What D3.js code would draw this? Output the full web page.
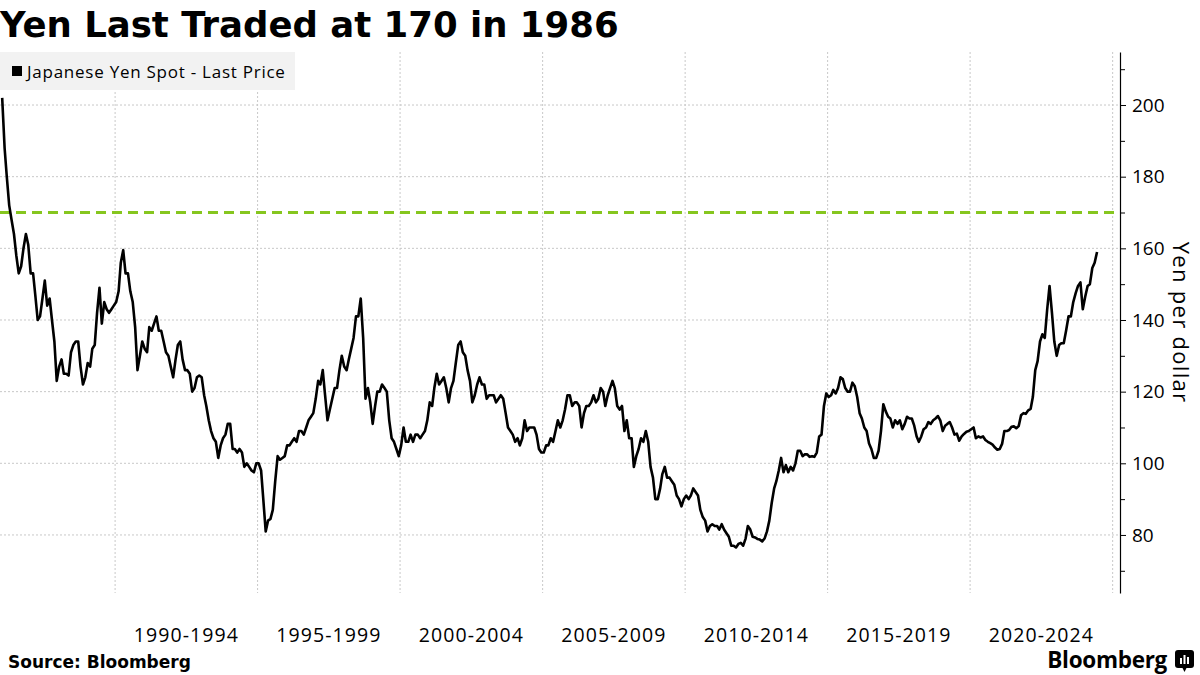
<!DOCTYPE html>
<html>
<head>
<meta charset="utf-8">
<script src="https://cdn.jsdelivr.net/npm/d3@7"></script>
<style>
  body { margin: 0; background: #fff; }
  svg { display: block; }
</style>
</head>
<body>
<div id="chart"></div>
<script>
// USD/JPY spot, monthly readings, Jan 1986 -> Jun 2024
const startYear = 1986;
const yenMonthly = [
  202, 188, 180, 172, 168, 164, 158, 153, 155, 160, 164, 161,   // 1986
  153, 153, 147, 140, 141, 146, 151, 144, 146, 140, 134, 123,   // 1987
  127, 129, 125, 125, 124.5, 131, 133, 134, 134, 127, 122, 124, // 1988
  128, 127, 132, 133, 142, 149, 139, 145, 143, 142, 143, 144,   // 1989
  145, 148, 156, 159.5, 153, 153, 148, 145, 138, 126, 130, 134, // 1990
  132, 131, 138, 137, 139, 141, 137, 137, 134, 131, 130, 127,   // 1991
  124, 129, 133, 134, 129, 126, 126, 125, 120, 121, 124, 124.5, // 1992
  124, 119, 116, 112, 109, 107, 106, 101.5, 105, 107, 108, 111, // 1993
  111, 104, 104, 103, 104, 103, 99, 100, 99, 98, 97.5, 100,     // 1994
  100, 98, 90, 81, 84, 84.5, 87, 95, 102, 101, 101.5, 102,      // 1995
  105, 105, 106, 107, 106, 109, 109, 108, 110, 112, 113, 114,   // 1996
  118, 123, 122, 126, 119, 112, 115, 118, 121, 121, 126, 130,   // 1997
  127, 126, 129, 132, 135, 141, 141, 146, 135, 118, 121, 117,   // 1998
  111, 116, 120, 120, 122, 121, 120, 112, 107, 106, 104, 102,   // 1999
  105, 110, 106, 106, 108, 106, 108, 108, 107, 108, 109, 112,   // 2000
  117, 116, 121, 125, 122, 123, 124, 121, 117, 121, 123, 128,   // 2001
  133, 134, 131, 130, 126, 123, 117, 119, 122, 124, 122, 122,   // 2002
  118, 119, 119, 119, 117, 118, 119, 118, 114, 110, 109, 108,   // 2003
  106, 107, 105, 107, 112, 109, 110, 110, 110, 108, 104, 103,   // 2004
  103, 105, 105, 107, 106, 109, 112, 110, 112, 115, 119, 119,   // 2005
  116, 117, 117, 116, 110, 114, 116, 116, 117, 119, 117, 118,   // 2006
  121, 120, 116, 119, 121, 123, 121, 116, 115, 116, 109, 112,   // 2007
  107, 107, 99, 102, 104, 107, 106, 109, 106, 99, 96, 90,       // 2008
  90, 93, 97, 99, 96, 96, 95, 94, 91, 90, 88, 90,               // 2009
  91, 90, 91, 93, 92, 91, 87, 85, 84, 81, 82.5, 83,             // 2010
  82.5, 82.5, 81.5, 83, 81.5, 80.5, 79.5, 77, 77, 76.5, 77.5, 77.8, // 2011
  77, 79, 82.5, 81.5, 79.5, 79.3, 78.9, 78.7, 78.2, 79, 81, 84, // 2012
  89, 93, 95, 98, 101.5, 97.5, 99.5, 97.5, 99, 98, 100, 103.5,  // 2013
  103.5, 102, 102.5, 102.5, 101.8, 102, 101.8, 103, 107.5, 108, 116, 119.5, // 2014
  118.5, 119, 120.5, 119.5, 121, 124, 123.5, 121, 120, 120, 122.5, 121.5,   // 2015
  118.5, 114, 112.5, 110, 109, 105.5, 104, 101.5, 101.5, 103.5, 109, 116.5, // 2016
  114.5, 113, 112.5, 110, 112, 111, 112, 109.5, 111, 113, 112.5, 112.5,     // 2017
  110.5, 107.5, 106, 107.5, 109.5, 110, 111.5, 111, 112, 112.5, 113.2, 112, // 2018
  109, 110.5, 111, 111.5, 110, 108, 108.3, 106.3, 107.5, 108.2, 108.8, 109, // 2019
  109.5, 110, 107, 107.5, 107.2, 107.5, 106.5, 106, 105.6, 105.2, 104.4, 103.8, // 2020
  104, 105.5, 109, 109, 109.3, 110.2, 110.3, 109.8, 110.4, 113.4, 114, 113.8,   // 2021
  114.8, 115.2, 118.5, 126, 128.5, 134, 136, 135, 143, 149.5, 142, 134,   // 2022
  130, 133, 133.5, 133.5, 137, 141, 141, 145, 147.5, 149.5, 150.5, 143,   // 2023
  146.5, 149.5, 150, 154.5, 156, 159                                      // 2024
];

const gridYears = [1990, 1995, 2000, 2005, 2010, 2015, 2020, 2025];
const periodLabels = ['1990-1994', '1995-1999', '2000-2004', '2005-2009',
                      '2010-2014', '2015-2019', '2020-2024'];
const yTicks = [80, 100, 120, 140, 160, 180, 200];
const yMinorTicks = [70, 90, 110, 130, 150, 170, 190, 210];
const threshold = 170;

const width = 1200, height = 675;
const plot = { left: 0, right: 1120, top: 52, bottom: 593 };

const data = yenMonthly.map((v, i) => ({
  date: new Date(startYear + Math.floor(i / 12), i % 12, 15),
  value: v
}));

const svg = d3.select('#chart').append('svg')
  .attr('width', width)
  .attr('height', height);

const x = d3.scaleTime()
  .domain([new Date(1985, 11, 18), new Date(2025, 3, 5)])
  .range([plot.left, plot.right]);

const y = d3.scaleLinear()
  .domain([63.8, 214.8])
  .range([plot.bottom, plot.top]);

// gridlines
const grid = svg.append('g').attr('class', 'grid');
grid.selectAll('line.h')
  .data(yTicks)
  .join('line')
  .attr('class', 'h')
  .attr('x1', plot.left).attr('x2', plot.right)
  .attr('y1', d => y(d)).attr('y2', d => y(d))
  .attr('stroke', '#c8c8c8')
  .attr('stroke-dasharray', '2,2');

grid.selectAll('line.v')
  .data(gridYears)
  .join('line')
  .attr('class', 'v')
  .attr('x1', d => x(new Date(d, 0, 1))).attr('x2', d => x(new Date(d, 0, 1)))
  .attr('y1', plot.top).attr('y2', plot.bottom)
  .attr('stroke', '#c8c8c8')
  .attr('stroke-dasharray', '2,2');

// 170 reference line
svg.append('line')
  .attr('x1', plot.left).attr('x2', plot.right)
  .attr('y1', y(threshold)).attr('y2', y(threshold))
  .attr('stroke', '#86c61f')
  .attr('stroke-width', 3)
  .attr('stroke-dasharray', '10,6');

// price line
const line = d3.line()
  .x(d => x(d.date))
  .y(d => y(d.value));

svg.append('path')
  .datum(data)
  .attr('d', line)
  .attr('fill', 'none')
  .attr('stroke', '#000')
  .attr('stroke-width', 2.6)
  .attr('stroke-linejoin', 'round');

// right axis, major + minor ticks
const axisG = svg.append('g')
  .attr('transform', `translate(${plot.right},0)`);

axisG.append('g')
  .call(d3.axisRight(y).tickValues(yMinorTicks).tickSize(5).tickFormat('').tickSizeOuter(0))
  .call(g => g.select('.domain').remove());

axisG.append('g')
  .call(d3.axisRight(y).tickValues(yTicks).tickSize(6).tickPadding(6).tickSizeOuter(0))
  .call(g => g.select('.domain').attr('stroke', '#000').attr('stroke-width', 1.2))
  .call(g => g.selectAll('text')
    .attr('font-family', '"Open Sans", sans-serif')
    .attr('font-size', 19)
    .attr('fill', '#000'));

axisG.selectAll('.tick line').attr('stroke', '#000');

// axis title, rotated so it reads top to bottom
svg.append('text')
  .attr('transform', `translate(1173, ${(plot.top + plot.bottom) / 2}) rotate(90)`)
  .attr('text-anchor', 'middle')
  .attr('font-family', '"Open Sans", sans-serif')
  .attr('font-size', 22)
  .attr('letter-spacing', 1.3)
  .attr('fill', '#000')
  .text('Yen per dollar');

// period labels, centred between gridlines
svg.append('g')
  .selectAll('text')
  .data(periodLabels)
  .join('text')
  .attr('x', (d, i) => (x(new Date(gridYears[i], 0, 1)) + x(new Date(gridYears[i + 1], 0, 1))) / 2)
  .attr('y', 642)
  .attr('text-anchor', 'middle')
  .attr('font-family', '"Open Sans", sans-serif')
  .attr('font-size', 19.5)
  .attr('letter-spacing', 1.1)
  .attr('fill', '#000')
  .text(d => d);

// title
svg.append('text')
  .attr('x', 0).attr('y', 37)
  .attr('font-family', '"DejaVu Sans", sans-serif')
  .attr('font-weight', 'bold')
  .attr('font-size', 35.5)
  .attr('fill', '#000')
  .text('Yen Last Traded at 170 in 1986');

// legend
const legend = svg.append('g');
legend.append('rect')
  .attr('x', 0).attr('y', 52)
  .attr('width', 295).attr('height', 38)
  .attr('fill', '#f2f2f2');
legend.append('rect')
  .attr('x', 12).attr('y', 66)
  .attr('width', 10).attr('height', 10)
  .attr('fill', '#000');
legend.append('text')
  .attr('x', 27).attr('y', 77.5)
  .attr('font-family', '"Open Sans", sans-serif')
  .attr('font-size', 17)
  .attr('letter-spacing', 0.75)
  .attr('fill', '#000')
  .text('Japanese Yen Spot - Last Price');

// footer
svg.append('text')
  .attr('x', 8).attr('y', 668)
  .attr('font-family', '"DejaVu Sans", sans-serif')
  .attr('font-weight', 'bold')
  .attr('font-size', 17)
  .attr('fill', '#000')
  .text('Source: Bloomberg');

svg.append('text')
  .attr('x', 1167).attr('y', 668)
  .attr('text-anchor', 'end')
  .attr('font-family', '"Open Sans", sans-serif')
  .attr('font-weight', 'bold')
  .attr('font-size', 22.5)
  .attr('letter-spacing', -0.3)
  .attr('fill', '#000')
  .text('Bloomberg');

// little logo mark
const logo = svg.append('g').attr('transform', 'translate(1175,650)');
logo.append('rect')
  .attr('width', 19).attr('height', 18).attr('rx', 3)
  .attr('fill', '#000');
logo.append('path')
  .attr('d', 'M7,17 L9.5,22 L12,17 Z')
  .attr('fill', '#000');
[[5, 8, 6], [8.5, 5, 9], [12, 7, 7]].forEach(([bx, by, bh]) => {
  logo.append('rect')
    .attr('x', bx).attr('y', by)
    .attr('width', 2).attr('height', bh)
    .attr('fill', '#fff');
});
</script>
</body>
</html>
